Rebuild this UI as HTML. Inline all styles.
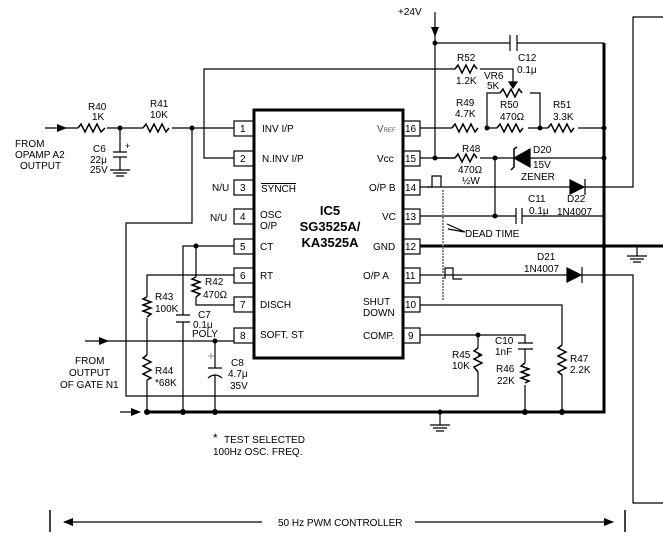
<!DOCTYPE html>
<html><head><meta charset="utf-8"><style>
html,body{margin:0;padding:0;background:#fff;}
svg{display:block;font-family:"Liberation Sans",Arial,sans-serif;}
text{fill:#000;}
</style></head><body>
<svg width="663" height="540" viewBox="0 0 663 540" xmlns="http://www.w3.org/2000/svg" font-size="10">
<defs>
<marker id="ah" markerWidth="10" markerHeight="8" refX="9" refY="4" orient="auto" markerUnits="userSpaceOnUse"><path d="M0,0 L10,4 L0,8 Z" fill="#000"/></marker>
</defs>
<g stroke="#000" stroke-width="1.2" fill="none">
<rect x="254" y="110" width="149" height="248" stroke-width="3"/>
<g stroke-width="1.2">
<rect x="234" y="121" width="20" height="15"/><rect x="234" y="151" width="20" height="15"/>
<rect x="234" y="180" width="20" height="15"/><rect x="234" y="209" width="20" height="15"/>
<rect x="234" y="239" width="20" height="15"/><rect x="234" y="268" width="20" height="15"/>
<rect x="234" y="297" width="20" height="15"/><rect x="234" y="328" width="20" height="15"/>
<rect x="403" y="121" width="17" height="15"/><rect x="403" y="151" width="17" height="15"/>
<rect x="403" y="180" width="17" height="15"/><rect x="403" y="209" width="17" height="15"/>
<rect x="403" y="239" width="17" height="15"/><rect x="403" y="268" width="17" height="15"/>
<rect x="403" y="297" width="17" height="15"/><rect x="403" y="328" width="17" height="15"/>
</g>
<path d="M604 43 V412 H147" stroke-width="3"/>
<path d="M420 246 H663" stroke-width="3"/>
<path d="M45 128 H66" marker-end="url(#ah)"/>
<path d="M66 128 H78 M107 128 H143 M172 128 H234"/>
<path d="M78 128 l3 -4 l4 8 l4 -8 l4 8 l4 -8 l4 8 l4 -4" stroke-width="1.5"/>
<path d="M143 128 l3 -4 l4 8 l4 -8 l4 8 l4 -8 l4 8 l3 -4" stroke-width="1.5"/>
<path d="M120 128 V152 M113 152 H127 M113 157 H127 M120 157 V170 M110 170 H130 M113 173 H127 M116 176 H124"/>
<path d="M234 158 H204 V69 H455 M480 69 H513 V86"/>
<path d="M455 69 l3 -4 l4 8 l4 -8 l4 8 l4 -8 l3 4" stroke-width="1.5"/>
<path d="M509 82 L513 88 L517 82 Z" fill="#000"/>
<path d="M192 128 V223 H126 V396 H478 V393"/>
<path d="M435 12 V36" marker-end="url(#ah)"/>
<path d="M435 36 V158 H455 M480 158 H514 M530 158 H604"/>
<path d="M435 43 H510 M517 43 H604 M510 35 V51 M517 35 V51"/>
<path d="M420 128 H452 M487 128 H497 M528 128 H548 M578 128 H604"/>
<path d="M452 128 l3 -4 l4 8 l4 -8 l4 8 l4 -8 l4 8 l3 -4" stroke-width="1.5"/>
<path d="M497 128 l3 -4 l4 8 l4 -8 l4 8 l4 -8 l4 8 l3 -4" stroke-width="1.5"/>
<path d="M548 128 l3 -4 l4 8 l4 -8 l4 8 l4 -8 l4 8 l3 -4" stroke-width="1.5"/>
<path d="M487 128 V93 H500 M530 93 H540 V128"/>
<path d="M500 93 l3 -4 l4 8 l4 -8 l4 8 l4 -8 l3 4" stroke-width="1.5"/>
<path d="M420 158 H455"/>
<path d="M455 158 l3 -4 l4 8 l4 -8 l4 8 l4 -8 l3 4" stroke-width="1.5"/>
<path d="M495 158 V216"/>
<path d="M530 149 V167 L514 158 Z" fill="#000"/>
<path d="M517 147 L514 149 V167 L511 170" stroke-width="1.5"/>
<path d="M420 187 H570 M585 187 H633 V17 H663"/>
<path d="M570 180 V194 L584 187 Z" fill="#000"/><path d="M585 179 V195"/>
<path d="M420 216 H516 M522 216 H604 M516 208 V224 M522 208 V224"/>
<path d="M420 275 H567 M582 275 H633 V503 H663"/>
<path d="M567 268 V282 L581 275 Z" fill="#000"/><path d="M582 267 V283"/>
<path d="M420 305 H562 V345 M562 375 V412"/>
<path d="M562 345 l-4 3 l8 4 l-8 4 l8 4 l-8 4 l8 4 l-8 4 l4 3" stroke-width="1.5"/>
<path d="M420 335 H525 V343 M518 343 H533 M518 349 H533 M525 349 V363 M525 385 V412 M478 335 V348 M478 372 V393"/>
<path d="M525 363 l-4 3 l8 3 l-8 3 l8 3 l-8 3 l8 3 l-4 2" stroke-width="1.5"/>
<path d="M478 348 l-4 3 l8 4 l-4 0 l4 0 l-8 4 l8 4 l-8 4 l4 5" stroke-width="1.5"/>
<path d="M443 190 V300" stroke="#888" stroke-dasharray="2 1" stroke-width="2"/>
<path d="M427 187 H432 V176 H441 V187"/><path d="M445 279 V268 H453 V279 H462"/>
<path d="M465 232 L447 224 M465 232 L448 229"/>
<path d="M234 246 H183 V315 M183 322 V412 M176 315 H190 M176 322 H190"/>
<path d="M196 246 V277 M196 297 V305 H234"/>
<path d="M196 277 l-4 2 l8 3 l-8 3 l8 3 l-8 3 l8 3 l-4 3" stroke-width="1.5"/>
<path d="M234 275 H147 V297 M147 318 V355 M147 380 V412"/>
<path d="M147 297 l-4 2 l8 3 l-8 3 l8 3 l-8 3 l8 3 l-4 3" stroke-width="1.5"/>
<path d="M147 355 l-4 3 l8 4 l-8 4 l8 4 l-8 4 l8 4 l-4 2" stroke-width="1.5"/>
<path d="M85 341 H108" marker-end="url(#ah)"/>
<path d="M108 341 H234 M215 341 V368 M208 368 H222 M208 378 Q215 372 222 378 M215 375 V412"/>
<path d="M208 356 H214 M211 353 V359" stroke="#999" stroke-width="1"/>
<path d="M120 412 H140" marker-end="url(#ah)"/>
<path d="M440 412 V425 M430 425 H450 M433 428 H447 M436 431 H444"/>
<path d="M637 246 V256 M627 256 H647 M630 259 H644 M633 262 H641"/>
<path d="M50 510 V532 M625 510 V532" stroke-width="1.5"/>
<path d="M262 522 H64" marker-end="url(#ah)"/>
<path d="M415 522 H613" marker-end="url(#ah)"/>
</g>
<g fill="#000">
<circle cx="120" cy="128" r="2.5"/><circle cx="192" cy="128" r="2.5"/>
<circle cx="435" cy="43" r="2.5"/><circle cx="435" cy="158" r="2.5"/>
<circle cx="487" cy="128" r="2.5"/><circle cx="540" cy="128" r="2.5"/>
<circle cx="604" cy="128" r="2.5"/><circle cx="604" cy="158" r="2.5"/>
<circle cx="495" cy="158" r="2.5"/><circle cx="495" cy="216" r="2.5"/>
<circle cx="604" cy="246" r="2.5"/><circle cx="478" cy="335" r="2.5"/>
<circle cx="196" cy="246" r="2.5"/><circle cx="215" cy="341" r="2.5"/>
<circle cx="147" cy="412" r="3"/><circle cx="183" cy="412" r="3"/><circle cx="215" cy="412" r="3"/>
<circle cx="440" cy="412" r="2.5"/><circle cx="525" cy="412" r="3"/><circle cx="562" cy="412" r="3"/>
</g>
<g>
<text x="240" y="132">1</text><text x="240" y="162">2</text><text x="240" y="191">3</text><text x="240" y="220">4</text>
<text x="240" y="250">5</text><text x="240" y="279">6</text><text x="240" y="308">7</text><text x="240" y="339">8</text>
<text x="405" y="132">16</text><text x="405" y="162">15</text><text x="405" y="191">14</text><text x="405" y="220">13</text>
<text x="405" y="250">12</text><text x="405" y="279">11</text><text x="405" y="308">10</text><text x="408" y="339">9</text>
<text x="262" y="132">INV I/P</text><text x="262" y="162">N.INV I/P</text>
<text x="261" y="192" text-decoration="overline">SYNCH</text>
<text x="260" y="218">OSC</text><text x="260" y="229">O/P</text>
<text x="260" y="250">CT</text><text x="260" y="279">RT</text><text x="260" y="308">DISCH</text><text x="260" y="338">SOFT. ST</text>
<text x="377" y="132" style="font-size:10px;fill:#555">V<tspan style="font-size:6px">REF</tspan></text>
<text x="377" y="162">Vcc</text><text x="369" y="191">O/P B</text><text x="382" y="220">VC</text>
<text x="373" y="250">GND</text><text x="363" y="279">O/P  A</text>
<text x="363" y="305">SHUT</text><text x="363" y="316">DOWN</text><text x="363" y="339">COMP.</text>
<text x="212" y="191">N/U</text><text x="210" y="221">N/U</text>
<text x="330" y="215" text-anchor="middle" style="font-size:13px;font-weight:bold">IC5</text>
<text x="330" y="231" text-anchor="middle" style="font-size:13px;font-weight:bold">SG3525A/</text>
<text x="330" y="247" text-anchor="middle" style="font-size:13px;font-weight:bold">KA3525A</text>
<text x="88" y="110">R40</text><text x="92" y="120">1K</text>
<text x="150" y="107">R41</text><text x="150" y="118">10K</text>
<text x="15" y="147">FROM</text><text x="15" y="158">OPAMP A2</text><text x="20" y="169">OUTPUT</text>
<text x="93" y="152">C6</text><text x="90" y="163">22μ</text><text x="90" y="173">25V</text>
<text x="125" y="149" style="font-size:9px">+</text>
<text x="398" y="15">+24V</text>
<text x="457" y="61">R52</text><text x="456" y="84">1.2K</text>
<text x="484" y="79">VR6</text><text x="487" y="89">5K</text>
<text x="518" y="61">C12</text><text x="517" y="73">0.1μ</text>
<text x="456" y="106">R49</text><text x="455" y="117">4.7K</text>
<text x="500" y="108">R50</text><text x="500" y="120">470Ω</text>
<text x="553" y="108">R51</text><text x="553" y="120">3.3K</text>
<text x="462" y="152">R48</text><text x="458" y="173">470Ω</text><text x="462" y="184">½W</text>
<text x="533" y="153">D20</text><text x="533" y="168">15V</text><text x="521" y="180">ZENER</text>
<text x="528" y="202">C11</text><text x="529" y="214">0.1μ</text>
<text x="567" y="202">D22</text><text x="557" y="215">1N4007</text>
<text x="465" y="237">DEAD TIME</text>
<text x="537" y="260">D21</text><text x="524" y="272">1N4007</text>
<text x="452" y="358">R45</text><text x="452" y="369">10K</text>
<text x="495" y="344">C10</text><text x="495" y="355">1nF</text>
<text x="496" y="372">R46</text><text x="497" y="384">22K</text>
<text x="570" y="362">R47</text><text x="570" y="373">2.2K</text>
<text x="205" y="285">R42</text><text x="203" y="298">470Ω</text>
<text x="155" y="300">R43</text><text x="155" y="312">100K</text>
<text x="198" y="318">C7</text><text x="193" y="328">0.1μ</text><text x="192" y="337">POLY</text>
<text x="75" y="364">FROM</text><text x="69" y="376">OUTPUT</text><text x="60" y="388">OF GATE N1</text>
<text x="155" y="374">R44</text><text x="155" y="386">*68K</text>
<text x="231" y="366">C8</text><text x="228" y="377">4.7μ</text><text x="230" y="389">35V</text>
<text x="213" y="442" style="font-size:12px">*</text><text x="224" y="443">TEST SELECTED</text>
<text x="213" y="455">100Hz OSC. FREQ.</text>
<text x="278" y="526">50 Hz PWM CONTROLLER</text>
</g>
</svg>
</body></html>
